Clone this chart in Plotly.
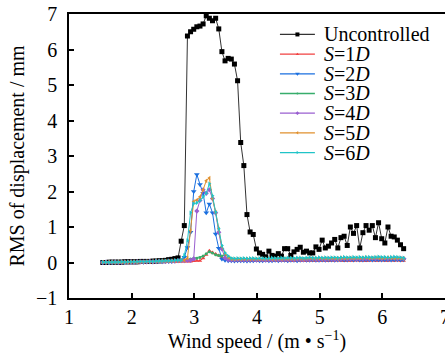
import plotly.graph_objects as go

# Wind speed grid (m/s): 1.54 .. 6.34 step 0.05 (97 points)
wind_speed = [round(1.54 + 0.05 * k, 2) for k in range(97)]

uncontrolled = [
    0.00, 0.00, 0.01, 0.01, 0.01, 0.01, 0.01, 0.02, 0.02, 0.02,
    0.02, 0.02, 0.03, 0.03, 0.03, 0.03, 0.04, 0.04, 0.05, 0.05,
    0.06, 0.08, 0.09, 0.11, 0.13, 0.60, 1.04, 6.38, 6.50, 6.57,
    6.64, 6.66, 6.72, 6.95, 6.88, 6.81, 6.88, 6.58, 5.94, 5.68,
    5.75, 5.73, 5.59, 5.12, 3.38, 2.73, 1.35, 0.86, 0.79, 0.38,
    0.27, 0.23, 0.16, 0.32, 0.20, 0.18, 0.25, 0.18, 0.39, 0.39,
    0.20, 0.30, 0.37, 0.43, 0.29, 0.32, 0.27, 0.27, 0.44, 0.37,
    0.63, 0.41, 0.46, 0.55, 0.65, 0.41, 0.70, 0.74, 0.48, 1.00,
    0.82, 1.04, 0.41, 0.84, 1.04, 0.91, 1.04, 0.70, 1.12, 0.67,
    0.55, 1.00, 0.74, 0.72, 0.63, 0.50, 0.39,
]

s1d = [
    0.00, 0.01, 0.00, 0.01, 0.00, 0.01, 0.01, 0.00, 0.01, 0.01,
    0.01, 0.00, 0.01, 0.01, 0.02, 0.01, 0.02, 0.02, 0.02, 0.02,
    0.03, 0.02, 0.03, 0.03, 0.02, 0.03, 0.03, 0.03, 0.03, 0.04,
    0.05, 0.05, 0.12, 0.22, 0.33, 0.28, 0.24, 0.20, 0.15, 0.10,
    0.07, 0.05, 0.05, 0.04, 0.05, 0.04, 0.05, 0.04, 0.05, 0.05,
    0.04, 0.05, 0.05, 0.04, 0.05, 0.05, 0.04, 0.05, 0.05, 0.04,
    0.05, 0.04, 0.05, 0.05, 0.05, 0.04, 0.05, 0.05, 0.04, 0.05,
    0.05, 0.05, 0.04, 0.05, 0.05, 0.06, 0.05, 0.04, 0.05, 0.05,
    0.05, 0.06, 0.05, 0.05, 0.04, 0.05, 0.06, 0.05, 0.05, 0.06,
    0.05, 0.05, 0.06, 0.05, 0.06, 0.05, 0.05,
]

s2d = [
    0.00, 0.00, 0.01, 0.00, 0.01, 0.01, 0.00, 0.01, 0.01, 0.01,
    0.01, 0.01, 0.02, 0.01, 0.02, 0.02, 0.02, 0.02, 0.03, 0.02,
    0.03, 0.03, 0.03, 0.04, 0.05, 0.08, 0.15, 0.42, 0.85, 2.00,
    2.48, 2.20, 1.95, 1.40, 1.65, 1.40, 0.80, 0.40, 0.10, 0.06,
    0.05, 0.05, 0.04, 0.05, 0.05, 0.05, 0.04, 0.05, 0.05, 0.06,
    0.05, 0.05, 0.06, 0.05, 0.05, 0.06, 0.05, 0.06, 0.06, 0.05,
    0.06, 0.06, 0.05, 0.06, 0.07, 0.06, 0.06, 0.07, 0.06, 0.06,
    0.07, 0.06, 0.07, 0.07, 0.06, 0.07, 0.08, 0.07, 0.07, 0.08,
    0.07, 0.08, 0.07, 0.07, 0.08, 0.08, 0.07, 0.08, 0.08, 0.07,
    0.08, 0.08, 0.07, 0.08, 0.08, 0.07, 0.08,
]

s3d = [
    0.01, 0.00, 0.01, 0.01, 0.01, 0.00, 0.01, 0.01, 0.02, 0.01,
    0.02, 0.02, 0.02, 0.02, 0.03, 0.02, 0.03, 0.03, 0.03, 0.04,
    0.04, 0.04, 0.05, 0.05, 0.05, 0.06, 0.06, 0.08, 0.10, 0.12,
    0.12, 0.14, 0.18, 0.25, 0.30, 0.27, 0.22, 0.20, 0.18, 0.22,
    0.15, 0.12, 0.10, 0.09, 0.10, 0.09, 0.10, 0.09, 0.10, 0.09,
    0.10, 0.09, 0.10, 0.10, 0.09, 0.10, 0.10, 0.09, 0.10, 0.11,
    0.10, 0.10, 0.11, 0.10, 0.10, 0.11, 0.10, 0.11, 0.10, 0.11,
    0.11, 0.10, 0.11, 0.11, 0.10, 0.11, 0.12, 0.11, 0.11, 0.12,
    0.11, 0.12, 0.11, 0.12, 0.12, 0.11, 0.12, 0.12, 0.11, 0.12,
    0.12, 0.11, 0.12, 0.12, 0.11, 0.12, 0.11,
]

s4d = [
    0.00, 0.01, 0.00, 0.01, 0.01, 0.00, 0.01, 0.01, 0.01, 0.02,
    0.01, 0.02, 0.02, 0.02, 0.02, 0.03, 0.02, 0.03, 0.03, 0.03,
    0.03, 0.04, 0.04, 0.04, 0.05, 0.05, 0.05, 0.06, 0.06, 0.10,
    1.45, 1.75, 2.05, 1.95, 2.05, 1.80, 1.40, 0.85, 0.38, 0.13,
    0.08, 0.07, 0.07, 0.08, 0.07, 0.08, 0.07, 0.08, 0.08, 0.07,
    0.08, 0.08, 0.07, 0.08, 0.08, 0.09, 0.08, 0.08, 0.09, 0.08,
    0.09, 0.08, 0.09, 0.09, 0.08, 0.09, 0.09, 0.10, 0.09, 0.09,
    0.10, 0.09, 0.10, 0.10, 0.09, 0.10, 0.10, 0.11, 0.10, 0.10,
    0.11, 0.10, 0.11, 0.10, 0.11, 0.11, 0.12, 0.11, 0.12, 0.11,
    0.12, 0.11, 0.12, 0.12, 0.11, 0.12, 0.11,
]

s5d = [
    0.01, 0.00, 0.01, 0.01, 0.00, 0.01, 0.01, 0.01, 0.01, 0.02,
    0.02, 0.01, 0.02, 0.02, 0.03, 0.02, 0.03, 0.03, 0.03, 0.04,
    0.04, 0.04, 0.05, 0.05, 0.05, 0.06, 0.06, 0.12, 0.90, 1.72,
    1.76, 1.85, 2.05, 2.30, 2.38, 1.80, 1.42, 0.95, 0.45, 0.25,
    0.15, 0.10, 0.09, 0.10, 0.09, 0.10, 0.10, 0.09, 0.10, 0.10,
    0.09, 0.10, 0.10, 0.11, 0.10, 0.10, 0.11, 0.10, 0.11, 0.10,
    0.11, 0.10, 0.11, 0.11, 0.10, 0.11, 0.12, 0.11, 0.11, 0.12,
    0.11, 0.12, 0.11, 0.12, 0.12, 0.11, 0.13, 0.12, 0.12, 0.13,
    0.12, 0.13, 0.12, 0.13, 0.14, 0.12, 0.13, 0.14, 0.13, 0.12,
    0.13, 0.14, 0.13, 0.12, 0.13, 0.12, 0.11,
]

s6d = [
    0.01, 0.01, 0.00, 0.01, 0.01, 0.01, 0.02, 0.01, 0.02, 0.02,
    0.02, 0.02, 0.03, 0.02, 0.03, 0.03, 0.03, 0.04, 0.04, 0.04,
    0.05, 0.05, 0.05, 0.06, 0.06, 0.06, 0.20, 0.62, 1.40, 1.66,
    1.68, 1.75, 1.85, 1.95, 2.22, 1.88, 1.42, 0.95, 0.48, 0.27,
    0.18, 0.12, 0.11, 0.12, 0.11, 0.12, 0.11, 0.12, 0.12, 0.11,
    0.12, 0.12, 0.11, 0.12, 0.13, 0.12, 0.12, 0.13, 0.12, 0.13,
    0.13, 0.12, 0.13, 0.13, 0.12, 0.13, 0.14, 0.13, 0.13, 0.14,
    0.13, 0.14, 0.13, 0.14, 0.14, 0.13, 0.14, 0.15, 0.14, 0.14,
    0.15, 0.14, 0.15, 0.14, 0.15, 0.15, 0.14, 0.15, 0.16, 0.15,
    0.15, 0.14, 0.15, 0.16, 0.15, 0.14, 0.13,
]

series_names = ["Uncontrolled", "<i>S</i>=1<i>D</i>", "<i>S</i>=2<i>D</i>",
                "<i>S</i>=3<i>D</i>", "<i>S</i>=4<i>D</i>", "<i>S</i>=5<i>D</i>",
                "<i>S</i>=6<i>D</i>"]
series_values = [uncontrolled, s1d, s2d, s3d, s4d, s5d, s6d]
series_colors = ["#333333", "#F14040", "#1A6FDF", "#37AD6B", "#9A5FD0", "#E0902E", "#20C4C8"]
series_symbols = ["square", "triangle-up", "triangle-down", "circle", "diamond",
                  "triangle-left", "triangle-right"]
series_msize = [5, 4, 5, 3, 4, 4, 4]

x_ticks = [1, 2, 3, 4, 5, 6, 7]
y_ticks = [-1, 0, 1, 2, 3, 4, 5, 6, 7]

FONT = "Liberation Serif, Times New Roman, serif"

fig = go.Figure()

for i in range(len(series_values)):
    fig.add_trace(go.Scatter(
        x=wind_speed, y=series_values[i], mode="lines+markers",
        line=dict(color=series_colors[i], width=1),
        marker=dict(symbol=series_symbols[i], size=series_msize[i],
                    color=series_colors[i] if i else "black", line=dict(width=0)),
        showlegend=False, cliponaxis=True,
    ))

# Manual legend (fraction coordinates on a hidden overlay axis)
LEG_X0, LEG_X1, LEG_TX = 0.561, 0.654, 0.673
LEG_Y0, LEG_DY = 0.928, 0.0693
for i, name in enumerate(series_names):
    yy = LEG_Y0 - i * LEG_DY
    fig.add_trace(go.Scatter(
        x=[LEG_X0, LEG_X1], y=[yy, yy], mode="lines", xaxis="x2", yaxis="y2",
        line=dict(color=series_colors[i], width=1.3), showlegend=False,
        hoverinfo="skip"))
    fig.add_trace(go.Scatter(
        x=[(LEG_X0 + LEG_X1) / 2], y=[yy], mode="markers", xaxis="x2", yaxis="y2",
        marker=dict(symbol=series_symbols[i], size=series_msize[i] - 1,
                    color=series_colors[i] if i else "black"),
        showlegend=False, hoverinfo="skip"))
    fig.add_annotation(x=LEG_TX, y=yy, xref="x2", yref="y2", text=name,
                       showarrow=False, xanchor="left", yanchor="middle",
                       font=dict(family=FONT, size=20, color="black"))

fig.update_layout(
    width=445, height=355,
    margin=dict(l=69, r=0, t=14, b=57),
    plot_bgcolor="white", paper_bgcolor="white",
    font=dict(family=FONT, size=20, color="black"),
    showlegend=False,
    xaxis=dict(range=[1, 7], tickvals=x_ticks, ticks="inside", ticklen=5,
               tickwidth=1.5, tickcolor="black", showline=True, linewidth=1.5,
               linecolor="black", mirror=True, showgrid=False, zeroline=False,
               automargin="bottom", ticklabelstandoff=0, ticklabeloverflow="allow",
               title=dict(text="Wind speed / (m • s<sup>−1</sup>)", standoff=0,
                          font=dict(family=FONT, size=20))),
    yaxis=dict(range=[-1, 7], tickvals=y_ticks, ticks="inside", ticklen=5,
               tickwidth=1.5, tickcolor="black", showline=True, linewidth=1.5,
               linecolor="black", showgrid=False, zeroline=False,
               automargin=False, ticklabelstandoff=6,
               title=dict(text="RMS of displacement / mm", standoff=6,
                          font=dict(family=FONT, size=20))),
    xaxis2=dict(range=[0, 1], overlaying="x", visible=False, anchor="y2"),
    yaxis2=dict(range=[0, 1], overlaying="y", visible=False, anchor="x2"),
)

fig.write_html("out.html")
